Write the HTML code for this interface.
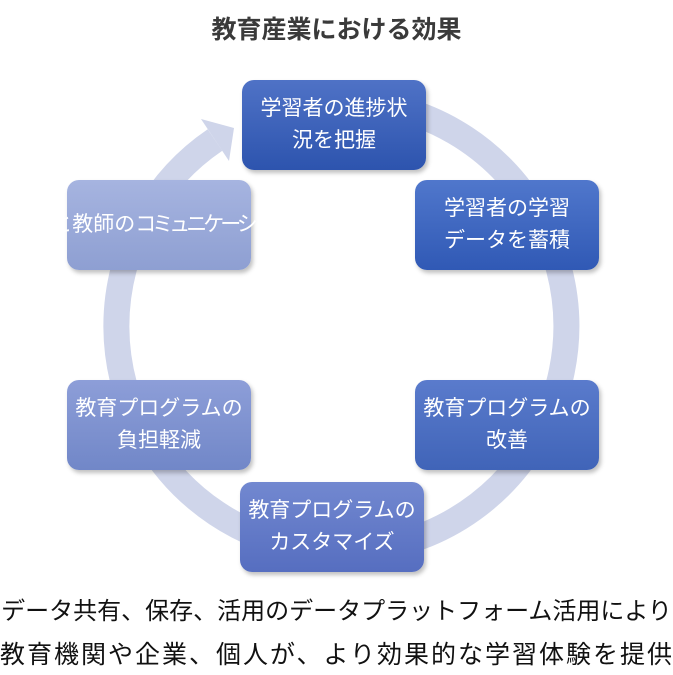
<!DOCTYPE html>
<html><head><meta charset="utf-8"><style>
body{margin:0;width:673px;height:675px;background:#fff;position:relative;overflow:hidden;font-family:"Liberation Sans","Noto Sans CJK JP",sans-serif}
.t{position:absolute;top:10px;left:0;width:673px;text-align:center;font-size:25px;font-weight:bold;color:#3a3a3a}
.n{position:absolute;width:184px;height:90px;border-radius:12px;color:#fff;font-size:21px;line-height:32px;display:flex;align-items:center;justify-content:center;text-align:center;box-shadow:2px 3px 4px rgba(0,0,0,.25);white-space:nowrap}
.b{position:absolute;left:0;width:673px;text-align:center;color:#111;line-height:40px;white-space:nowrap}
</style></head><body>
<div class="t">教育産業における効果</div>
<svg width="673" height="675" style="position:absolute;left:0;top:0">
<path d="M215,140 A225,225 0 1 0 300,105" fill="none" stroke="#cfd5ea" stroke-width="26"/>
<polygon points="201,119 234,128 229,161" fill="#cfd5ea"/>
</svg>
<div class="n" style="left:242px;top:80px;background:linear-gradient(#4f72c6,#2d54ae)">学習者の進捗状<br>況を把握</div>
<div class="n" style="left:415px;top:180px;background:linear-gradient(#5077cc,#3059b5)">学習者の学習<br>データを蓄積</div>
<div class="n" style="left:415px;top:380px;background:linear-gradient(#5a7bcc,#4064b8)">教育プログラムの<br>改善</div>
<div class="n" style="left:240px;top:482px;background:linear-gradient(#7288d0,#566ec0)">教育プログラムの<br>カスタマイズ</div>
<div class="n" style="left:67px;top:380px;background:linear-gradient(#8d9ed8,#7187c8)">教育プログラムの<br>負担軽減</div>
<div class="n" style="left:67px;top:180px;background:linear-gradient(#a6b4e0,#8e9fd2);line-height:30px">学習者と教師の<br><span style="letter-spacing:-4px">コミュニケーション</span><br>促進</div>
<div class="b" style="top:592px;font-size:24px">データ共有、保存、活用のデータプラットフォーム活用により</div>
<div class="b" style="top:635px;font-size:25px;letter-spacing:2px">教育機関や企業、個人が、より効果的な学習体験を提供</div>
</body></html>
